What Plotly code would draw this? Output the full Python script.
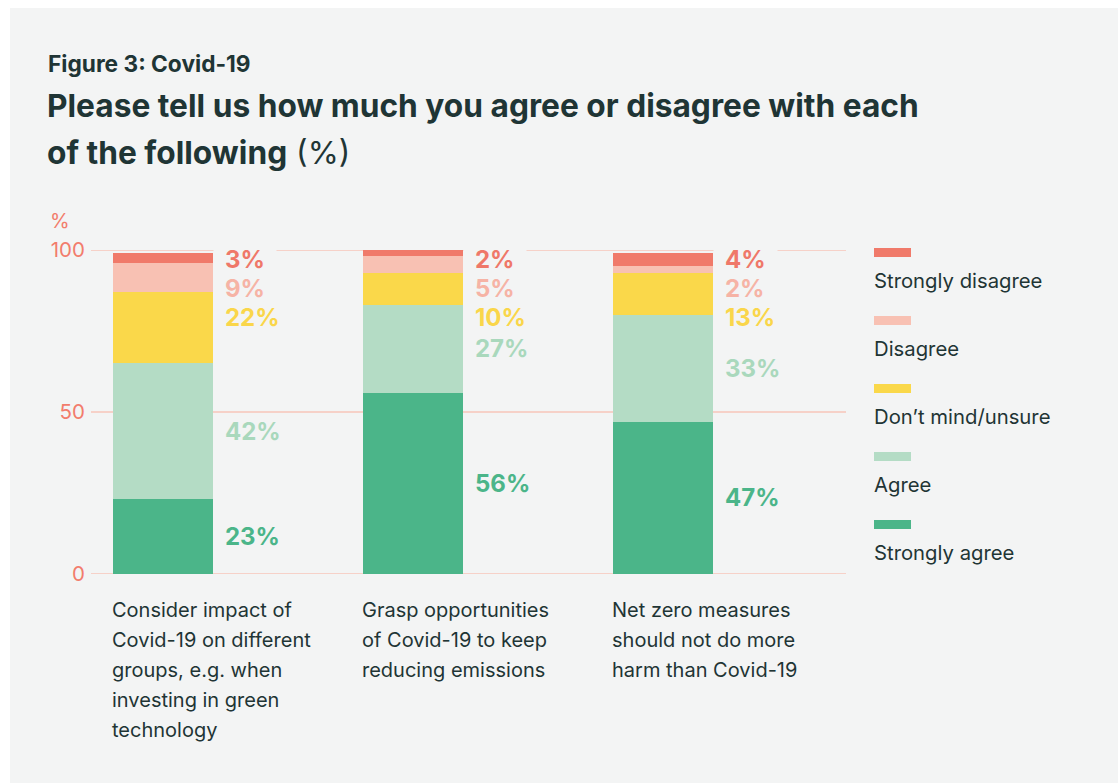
import plotly.graph_objects as go

# Survey responses (% of respondents) for each statement
category_lines = [
    ["Consider impact of", "Covid-19 on different", "groups, e.g. when", "investing in green", "technology"],
    ["Grasp opportunities", "of Covid-19 to keep", "reducing emissions"],
    ["Net zero measures", "should not do more", "harm than Covid-19"],
]
responses = ["Strongly disagree", "Disagree", "Don\u2019t mind/unsure", "Agree", "Strongly agree"]
strongly_disagree = [3, 2, 4]
disagree = [9, 5, 2]
dont_mind = [22, 10, 13]
agree = [42, 27, 33]
strongly_agree = [23, 56, 47]
y_ticks = [0, 50, 100]

# Top-to-bottom order used for the legend and the value labels
series_values = [strongly_disagree, disagree, dont_mind, agree, strongly_agree]
bar_colors = ["#f07a6a", "#f8c1b3", "#fad84a", "#b4dcc5", "#4bb589"]
label_colors = ["#ef7869", "#f6b3a5", "#fad64a", "#a9d8bc", "#4bb589"]

FONT = "Inter"
TEXT = "#1f3535"
CORAL = "#f27c6c"
GRID = "#f7c6ba"
PANEL = "#f3f4f4"

W, H = 1118, 783
L, R, T, B = 91, 846, 250, 574          # plot area in pixels
PX_PER_CAT = 250                        # horizontal distance between bars
BAR_W = 0.4


def px_x(p):
    return (p - L) / (R - L)


def px_y(p):
    return (B - p) / (B - T)


x_pos = list(range(len(category_lines)))
x0 = -(163 - L) / PX_PER_CAT
x1 = x0 + (R - L) / PX_PER_CAT

fig = go.Figure()
# stack from the bottom: strongly agree first
for name, vals, col in reversed(list(zip(responses, series_values, bar_colors))):
    fig.add_trace(go.Bar(
        x=x_pos, y=vals, name=name, width=BAR_W,
        marker=dict(color=col, line=dict(width=0)),
        showlegend=False, hoverinfo="skip",
    ))

annotations = []
shapes = []

# gray panel behind everything
shapes.append(dict(type="rect", xref="paper", yref="paper", layer="below",
                   x0=px_x(10), x1=px_x(W + 5), y0=px_y(H + 5), y1=px_y(8),
                   fillcolor=PANEL, line=dict(width=0)))

# horizontal gridlines
for v in y_ticks:
    shapes.append(dict(type="line", xref="paper", yref="y", layer="below",
                       x0=0, x1=1, y0=v, y1=v,
                       line=dict(color=GRID, width=1.6)))

# value labels to the right of each bar
GAP = 29 / ((B - T) / 100)
TOP_LABEL = 97
for i in x_pos:
    vals = [s[i] for s in series_values]
    tops = []
    run = sum(vals)
    for v in vals:
        tops.append(run)
        run -= v
    prev = None
    for k, (v, top, col) in enumerate(zip(vals, tops, label_colors)):
        center = top - v / 2
        if k < 3:
            y = TOP_LABEL - k * GAP
        else:
            y = min(center, prev - GAP)
        prev = y
        annotations.append(dict(
            x=i + BAR_W / 2, y=y, xref="x", yref="y",
            text=f"<b>{v}%</b>", showarrow=False,
            xanchor="left", yanchor="middle", borderpad=11,
            bgcolor=PANEL if k == 0 else "rgba(0,0,0,0)",
            font=dict(family=FONT, size=24, color=col),
        ))

# category labels under the bars
for i, lines in zip(x_pos, category_lines):
    for j, line in enumerate(lines):
        annotations.append(dict(
            x=i - BAR_W / 2, y=0, xref="x", yref="paper",
            text=line, showarrow=False, xanchor="left", yanchor="middle",
            xshift=-3, yshift=-(610 - B) - 30 * j,
            font=dict(family=FONT, size=20, color=TEXT),
        ))

# legend: swatch above each label
for k, (name, col) in enumerate(zip(responses, bar_colors)):
    sy = 248 + 68 * k
    shapes.append(dict(type="rect", xref="paper", yref="paper",
                       x0=px_x(874), x1=px_x(911), y0=px_y(sy + 9), y1=px_y(sy),
                       fillcolor=col, line=dict(width=0)))
    annotations.append(dict(
        x=px_x(872), y=px_y(280 + 68 * k), xref="paper", yref="paper",
        text=name, showarrow=False, xanchor="left", yanchor="middle",
        font=dict(family=FONT, size=20.3, color=TEXT),
    ))

# axis unit
annotations.append(dict(
    x=px_x(48), y=px_y(221), xref="paper", yref="paper", text="%",
    showarrow=False, xanchor="left", yanchor="middle",
    font=dict(family=FONT, size=20, color=CORAL),
))

# titles
annotations += [
    dict(x=px_x(46), y=px_y(63), xref="paper", yref="paper",
         text="<b>Figure 3: Covid-19</b>", showarrow=False,
         xanchor="left", yanchor="middle",
         font=dict(family=FONT, size=22.7, color=TEXT)),
    dict(x=px_x(45), y=px_y(105), xref="paper", yref="paper",
         text="<b>Please tell us how much you agree or disagree with each</b>",
         showarrow=False, xanchor="left", yanchor="middle",
         font=dict(family=FONT, size=31.7, color=TEXT)),
    dict(x=px_x(45), y=px_y(152), xref="paper", yref="paper",
         text="<b>of the following</b> (%)",
         showarrow=False, xanchor="left", yanchor="middle",
         font=dict(family=FONT, size=31.7, color=TEXT)),
]

fig.update_layout(
    width=W, height=H,
    margin=dict(l=L, r=W - R, t=T, b=H - B, pad=0),
    paper_bgcolor="white", plot_bgcolor="rgba(0,0,0,0)",
    barmode="stack", bargap=0,
    showlegend=False,
    xaxis=dict(range=[x0, x1], showgrid=False, zeroline=False,
               showticklabels=False, ticks="", fixedrange=True),
    yaxis=dict(range=[0, 100], tickvals=y_ticks, showgrid=False,
               zeroline=False, showline=False,
               ticks="outside", ticklen=1, tickcolor="rgba(0,0,0,0)",
               tickfont=dict(family=FONT, size=20.5, color=CORAL)),
    shapes=shapes, annotations=annotations,
)

fig.write_html("out.html")
